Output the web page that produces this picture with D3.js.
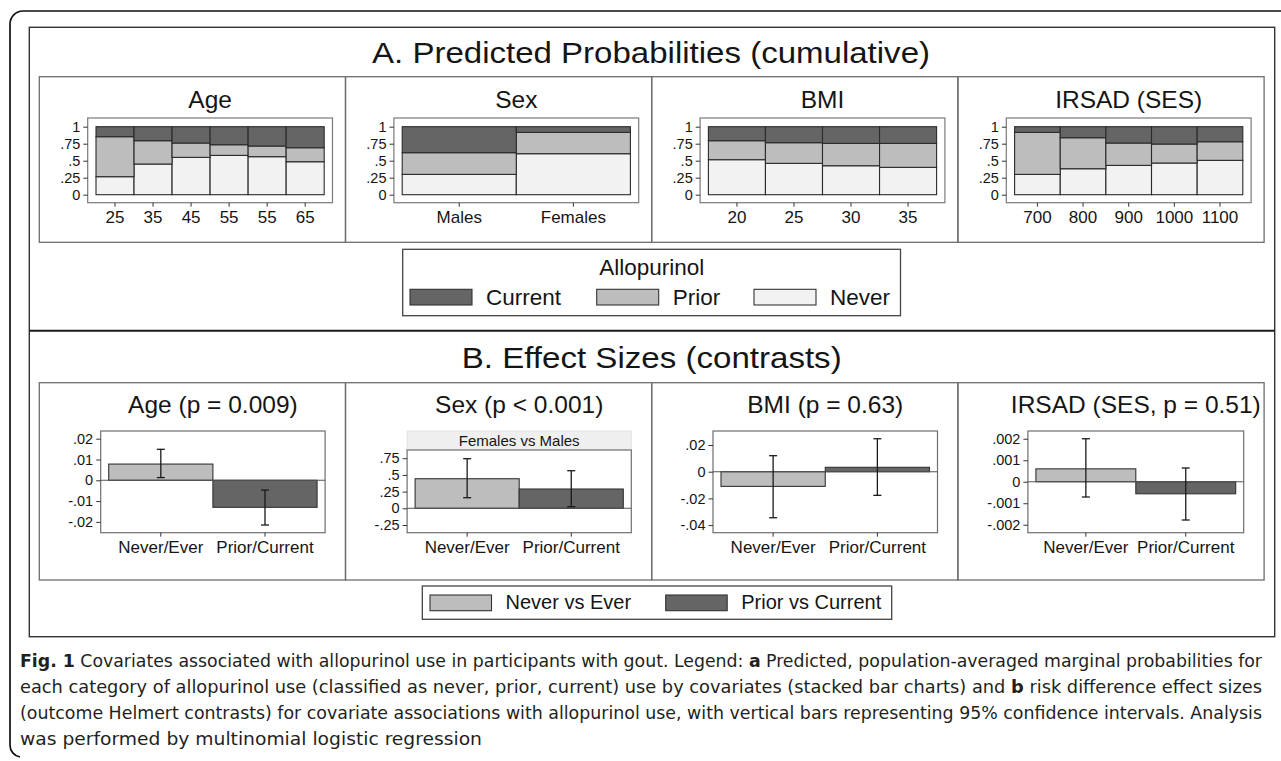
<!DOCTYPE html>
<html lang="en">
<head>
<meta charset="UTF-8">
<title>Allopurinol use by covariates</title>
<script src="https://cdn.jsdelivr.net/npm/d3@7"></script>
<style>
  body { margin: 0; background: #fff; }
  svg text { font-family: "Liberation Sans", Arial, sans-serif; fill: #151515; }
  .caption text { font-family: "Liberation Sans Narrow", "DejaVu Sans Condensed", sans-serif; fill: #231f20; }
</style>
</head>
<body>
<div id="chart"></div>
<script>
// ---- A. predicted probabilities (shares of never / prior / current) ----
var ageLabels = ["25", "35", "45", "55", "55", "65"];
var ageNever = [0.265, 0.451, 0.549, 0.578, 0.559, 0.485];
var agePrior = [0.588, 0.343, 0.211, 0.157, 0.157, 0.206];
var ageCurrent = [0.147, 0.206, 0.240, 0.265, 0.284, 0.309];

var sexLabels = ["Males", "Females"];
var sexNever = [0.299, 0.603];
var sexPrior = [0.319, 0.314];
var sexCurrent = [0.382, 0.083];

var bmiLabels = ["20", "25", "30", "35"];
var bmiNever = [0.515, 0.461, 0.426, 0.402];
var bmiPrior = [0.279, 0.304, 0.329, 0.353];
var bmiCurrent = [0.206, 0.235, 0.245, 0.245];

var irsadLabels = ["700", "800", "900", "1000", "1100"];
var irsadNever = [0.299, 0.382, 0.431, 0.466, 0.505];
var irsadPrior = [0.618, 0.456, 0.329, 0.279, 0.274];
var irsadCurrent = [0.083, 0.162, 0.240, 0.255, 0.221];

var probTicks = [0, 0.25, 0.5, 0.75, 1];

// ---- B. effect sizes (Never/Ever, Prior/Current) with 95% CI ----
var contrastLabels = ["Never/Ever", "Prior/Current"];
var ageEst = [0.0078, -0.013];
var ageLo = [0.0013, -0.0215];
var ageHi = [0.0149, -0.0047];
var ageTicks = [-0.02, -0.01, 0, 0.01, 0.02];

var sexEst = [0.443, 0.289];
var sexLo = [0.159, 0.024];
var sexHi = [0.743, 0.563];
var sexTicks = [-0.25, 0, 0.25, 0.5, 0.75];

var bmiEst = [-0.011, 0.0033];
var bmiLo = [-0.0345, -0.0177];
var bmiHi = [0.012, 0.0247];
var bmiTicks = [-0.04, -0.02, 0, 0.02];

var irsadEst = [0.0006, -0.00056];
var irsadLo = [-0.00071, -0.00178];
var irsadHi = [0.0020, 0.00064];
var irsadTicks = [-0.002, -0.001, 0, 0.001, 0.002];

var stackKeys = ["never", "prior", "current"];
var legendNames = ["Current", "Prior", "Never"];
var contrastNames = ["Never vs Ever", "Prior vs Current"];

var fills = {never: "#f2f2f2", prior: "#bdbdbd", current: "#656565"};
var contrastFills = ["#bdbdbd", "#656565"];

var captionLines = [
  [["b", "Fig. 1"], ["n", " Covariates associated with allopurinol use in participants with gout. Legend: "], ["b", "a"], ["n", " Predicted, population-averaged marginal probabilities for"]],
  [["n", "each category of allopurinol use (classified as never, prior, current) use by covariates (stacked bar charts) and "], ["b", "b"], ["n", " risk difference effect sizes"]],
  [["n", "(outcome Helmert contrasts) for covariate associations with allopurinol use, with vertical bars representing 95% confidence intervals. Analysis"]],
  [["n", "was performed by multinomial logistic regression"]]
];

// ---- layout ----
var width = 1281, height = 761;
var panelLeft = 39.3, panelW = 306.2;

var svg = d3.select("#chart")
  .append("svg")
    .attr("width", width)
    .attr("height", height);

function fmt(v) {
  if (v === 0) return "0";
  return String(+v.toFixed(4)).replace("0.", ".");
}

function styleAxis(sel, size) {
  sel.attr("font-family", null).attr("font-size", size).attr("color", "#333");
  sel.select(".domain").remove();
  sel.selectAll("text").style("fill", "#151515");
}

// outer frame (open on the right/bottom)
svg.append("path")
  .attr("d", "M1281,11 H23 A13,13 0 0 0 10,24 V745 A12,12 0 0 0 20,757")
  .attr("fill", "none")
  .attr("stroke", "#111")
  .attr("stroke-width", 1.7);

// figure box
svg.append("rect")
  .attr("x", 29.3).attr("y", 27.3)
  .attr("width", 1274.7 - 29.3).attr("height", 636.7 - 27.3)
  .attr("fill", "none").attr("stroke", "#333").attr("stroke-width", 1.4);

svg.append("line")
  .attr("x1", 29.3).attr("x2", 1274.7)
  .attr("y1", 330.7).attr("y2", 330.7)
  .attr("stroke", "#1a1a1a").attr("stroke-width", 2);

svg.append("text")
  .attr("x", 651).attr("y", 63.3)
  .attr("text-anchor", "middle")
  .attr("font-size", 29)
  .attr("textLength", 558).attr("lengthAdjust", "spacingAndGlyphs")
  .text("A. Predicted Probabilities (cumulative)");

svg.append("text")
  .attr("x", 651.7).attr("y", 368.3)
  .attr("text-anchor", "middle")
  .attr("font-size", 30)
  .attr("textLength", 380).attr("lengthAdjust", "spacingAndGlyphs")
  .text("B. Effect Sizes (contrasts)");

// ---- A: stacked bar panels ----
var stackPanels = [
  {title: "Age", labels: ageLabels, never: ageNever, prior: agePrior, current: ageCurrent},
  {title: "Sex", labels: sexLabels, never: sexNever, prior: sexPrior, current: sexCurrent},
  {title: "BMI", labels: bmiLabels, never: bmiNever, prior: bmiPrior, current: bmiCurrent},
  {title: "IRSAD (SES)", labels: irsadLabels, never: irsadNever, prior: irsadPrior, current: irsadCurrent}
];

stackPanels.forEach(function(p, i) {
  var px = panelLeft + i * panelW;
  var g = svg.append("g");

  g.append("rect")
    .attr("x", px).attr("y", 76.7)
    .attr("width", panelW).attr("height", 242.3 - 76.7)
    .attr("fill", "none").attr("stroke", "#6e6e6e").attr("stroke-width", 1.3);

  var boxL = px + 48.4, boxR = px + 293.2, boxT = 118, boxB = 202.7;

  g.append("rect")
    .attr("x", boxL).attr("y", boxT)
    .attr("width", boxR - boxL).attr("height", boxB - boxT)
    .attr("fill", "#fff").attr("stroke", "#7a7a7a").attr("stroke-width", 1.2);

  g.append("text")
    .attr("x", (boxL + boxR) / 2).attr("y", 108.3)
    .attr("text-anchor", "middle")
    .attr("font-size", 24.5)
    .text(p.title);

  var x = d3.scaleBand()
    .domain(p.labels.map(function(d, j) { return j; }))
    .range([boxL + 8.3, boxR - 8.3]);

  var y = d3.scaleLinear().domain([0, 1]).range([194.7, 126.7]);

  var rows = p.labels.map(function(d, j) {
    return {i: j, never: p.never[j], prior: p.prior[j], current: p.current[j]};
  });
  var series = d3.stack().keys(stackKeys)(rows);

  g.selectAll("g.layer")
    .data(series)
    .enter()
    .append("g")
      .attr("class", "layer")
      .attr("fill", function(d) { return fills[d.key]; })
    .selectAll("rect")
    .data(function(d) { return d; })
    .enter()
    .append("rect")
      .attr("x", function(d) { return x(d.data.i); })
      .attr("y", function(d) { return y(d[1]); })
      .attr("width", x.bandwidth())
      .attr("height", function(d) { return y(d[0]) - y(d[1]); })
      .attr("stroke", "#2b2b2b")
      .attr("stroke-width", 1.1);

  g.append("g")
    .attr("transform", "translate(" + boxL + ",0)")
    .call(d3.axisLeft(y).tickValues(probTicks).tickFormat(fmt).tickSize(4.4).tickPadding(3).tickSizeOuter(0))
    .call(styleAxis, 14.5);

  g.append("g")
    .attr("transform", "translate(0," + boxB + ")")
    .call(d3.axisBottom(x).tickFormat(function(j) { return p.labels[j]; }).tickSize(4).tickPadding(4.3).tickSizeOuter(0))
    .call(styleAxis, 17);
});

// legend A
var legA = svg.append("g");
legA.append("rect")
  .attr("x", 402.7).attr("y", 249.3)
  .attr("width", 900.5 - 402.7).attr("height", 315.7 - 249.3)
  .attr("fill", "#fff").attr("stroke", "#444").attr("stroke-width", 1.3);
legA.append("text")
  .attr("x", 651.7).attr("y", 275)
  .attr("text-anchor", "middle")
  .attr("font-size", 22.5)
  .text("Allopurinol");
var legAX = [410, 596.7, 754];
legendNames.forEach(function(name, k) {
  legA.append("rect")
    .attr("x", legAX[k]).attr("y", 289.3)
    .attr("width", 62).attr("height", 15.7)
    .attr("fill", fills[name.toLowerCase()])
    .attr("stroke", "#333").attr("stroke-width", 1.1);
  legA.append("text")
    .attr("x", legAX[k] + 76).attr("y", 305)
    .attr("font-size", 22.5)
    .text(name);
});

// ---- B: effect size panels ----
var effectPanels = [
  {title: "Age (p = 0.009)", est: ageEst, lo: ageLo, hi: ageHi, ticks: ageTicks, domain: [-0.0252, 0.0237], left: 61.4},
  {title: "Sex (p < 0.001)", est: sexEst, lo: sexLo, hi: sexHi, ticks: sexTicks, domain: [-0.365, 0.873], left: 61.6, strip: "Females vs Males"},
  {title: "BMI (p = 0.63)", est: bmiEst, lo: bmiLo, hi: bmiHi, ticks: bmiTicks, domain: [-0.0457, 0.0305], left: 61.3},
  {title: "IRSAD (SES, p = 0.51)", est: irsadEst, lo: irsadLo, hi: irsadHi, ticks: irsadTicks, domain: [-0.00237, 0.00236], left: 70}
];

effectPanels.forEach(function(p, i) {
  var px = panelLeft + i * panelW;
  var g = svg.append("g");

  g.append("rect")
    .attr("x", px).attr("y", 382.7)
    .attr("width", panelW).attr("height", 580 - 382.7)
    .attr("fill", "none").attr("stroke", "#6e6e6e").attr("stroke-width", 1.3);

  var boxL = px + p.left, boxR = px + 285.8, boxT = 431, boxB = 532.7;

  g.append("text")
    .attr("x", (boxL + boxR) / 2).attr("y", 413)
    .attr("text-anchor", "middle")
    .attr("font-size", 24.5)
    .text(p.title);

  if (p.strip) {
    g.append("rect")
      .attr("x", boxL).attr("y", boxT)
      .attr("width", boxR - boxL).attr("height", 19)
      .attr("fill", "#efefef").attr("stroke", "#e2e2e2").attr("stroke-width", 1);
    g.append("text")
      .attr("x", (boxL + boxR) / 2).attr("y", boxT + 14.5)
      .attr("text-anchor", "middle")
      .attr("font-size", 15)
      .text(p.strip);
    boxT = 450;
  }

  g.append("rect")
    .attr("x", boxL).attr("y", boxT)
    .attr("width", boxR - boxL).attr("height", boxB - boxT)
    .attr("fill", "#fff").attr("stroke", "#6e6e6e").attr("stroke-width", 1.2);

  var x = d3.scaleBand().domain([0, 1]).range([boxL + 8, boxR - 8]);
  var y = d3.scaleLinear().domain(p.domain).range([boxB, boxT]);

  var rows = contrastLabels.map(function(d, j) {
    return {i: j, est: p.est[j], lo: p.lo[j], hi: p.hi[j]};
  });

  g.selectAll("rect.bar")
    .data(rows)
    .enter()
    .append("rect")
      .attr("class", "bar")
      .attr("x", function(d) { return x(d.i); })
      .attr("y", function(d) { return y(Math.max(0, d.est)); })
      .attr("width", x.bandwidth())
      .attr("height", function(d) { return Math.abs(y(d.est) - y(0)); })
      .attr("fill", function(d) { return contrastFills[d.i]; })
      .attr("stroke", "#333")
      .attr("stroke-width", 1.1);

  // zero line
  g.append("line")
    .attr("x1", boxL).attr("x2", boxR)
    .attr("y1", y(0)).attr("y2", y(0))
    .attr("stroke", "#555").attr("stroke-width", 1.1);

  // confidence intervals
  var ci = g.selectAll("g.ci")
    .data(rows)
    .enter()
    .append("g")
      .attr("class", "ci")
      .attr("stroke", "#1a1a1a")
      .attr("stroke-width", 1.3);
  ci.append("line")
    .attr("x1", function(d) { return x(d.i) + x.bandwidth() / 2; })
    .attr("x2", function(d) { return x(d.i) + x.bandwidth() / 2; })
    .attr("y1", function(d) { return y(d.lo); })
    .attr("y2", function(d) { return y(d.hi); });
  ["lo", "hi"].forEach(function(k) {
    ci.append("line")
      .attr("x1", function(d) { return x(d.i) + x.bandwidth() / 2 - 4; })
      .attr("x2", function(d) { return x(d.i) + x.bandwidth() / 2 + 4; })
      .attr("y1", function(d) { return y(d[k]); })
      .attr("y2", function(d) { return y(d[k]); });
  });

  g.append("g")
    .attr("transform", "translate(" + boxL + ",0)")
    .call(d3.axisLeft(y).tickValues(p.ticks).tickFormat(fmt).tickSize(4.5).tickPadding(3).tickSizeOuter(0))
    .call(styleAxis, 14.5);

  g.append("g")
    .attr("transform", "translate(0," + boxB + ")")
    .call(d3.axisBottom(x).tickFormat(function(j) { return contrastLabels[j]; }).tickSize(4).tickPadding(4).tickSizeOuter(0))
    .call(styleAxis, 17);
});

// legend B
var legB = svg.append("g");
legB.append("rect")
  .attr("x", 422.3).attr("y", 586)
  .attr("width", 891.7 - 422.3).attr("height", 619.3 - 586)
  .attr("fill", "#fff").attr("stroke", "#444").attr("stroke-width", 1.3);
var legBX = [430, 665.7];
contrastNames.forEach(function(name, k) {
  legB.append("rect")
    .attr("x", legBX[k]).attr("y", 595)
    .attr("width", 61.5).attr("height", 15.7)
    .attr("fill", contrastFills[k])
    .attr("stroke", "#333").attr("stroke-width", 1.1);
  legB.append("text")
    .attr("x", legBX[k] + 75.5).attr("y", 609.3)
    .attr("font-size", 20)
    .text(name);
});

// caption
var capLengths = [1242, 1242, 1242, 462];
var cap = svg.append("g").attr("class", "caption");
captionLines.forEach(function(parts, li) {
  var t = cap.append("text")
    .attr("x", 20).attr("y", 667 + li * 26)
    .attr("font-size", 17)
    .attr("textLength", capLengths[li])
    .attr("lengthAdjust", "spacingAndGlyphs")
    .attr("xml:space", "preserve");
  parts.forEach(function(pt) {
    t.append("tspan")
      .attr("font-weight", pt[0] === "b" ? "bold" : "normal")
      .text(pt[1]);
  });
});
</script>
</body>
</html>
